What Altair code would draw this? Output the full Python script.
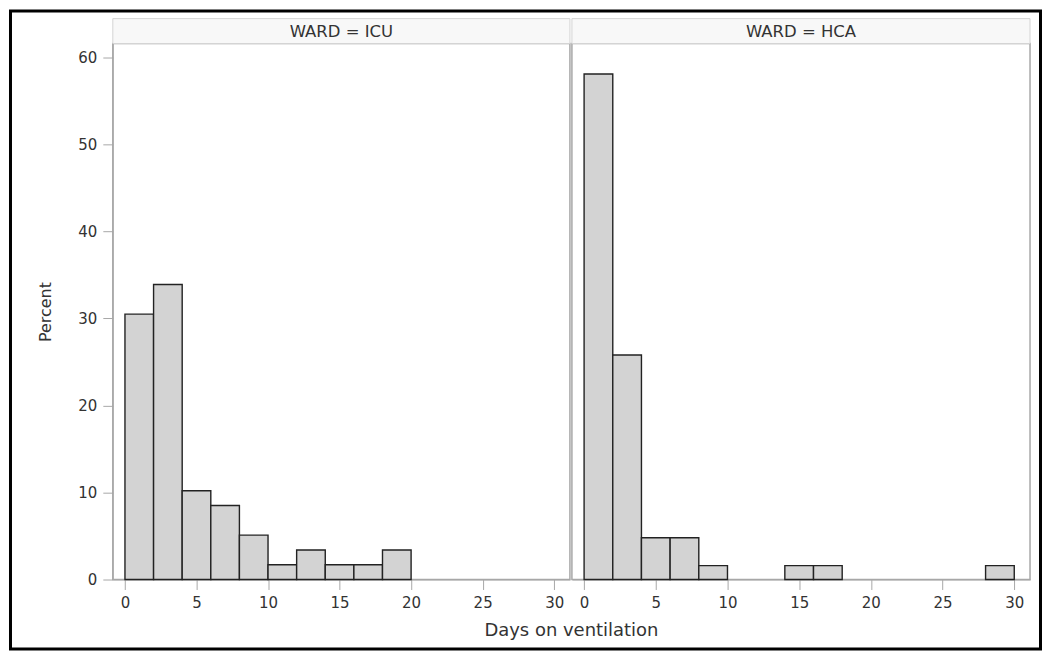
import altair as alt
import pandas as pd

# ---- data ----
wards = ["ICU", "HCA"]
bin_starts = [0, 2, 4, 6, 8, 10, 12, 14, 16, 18, 20, 22, 24, 26, 28]
bin_width = 2
icu_pct = [30.5, 33.9, 10.2, 8.5, 5.1, 1.7, 3.4, 1.7, 1.7, 3.4, 0, 0, 0, 0, 0]
hca_pct = [58.1, 25.8, 4.8, 4.8, 1.6, 0, 0, 1.6, 1.6, 0, 0, 0, 0, 0, 1.6]
x_ticks = [0, 5, 10, 15, 20, 25, 30]
y_ticks = [0, 10, 20, 30, 40, 50, 60]
x_title = "Days on ventilation"
y_title = "Percent"

FONT = "DejaVu Sans"
TXT = "#333333"
GRAY = "#a8a8a8"
W1, W2, H = 458, 459, 537
XDOM = [-0.85, 31.1]
YDOM = [0, 61.6]


def panel(ward, pct, width, first):
    df = pd.DataFrame({
        "start": bin_starts,
        "end": [b + bin_width for b in bin_starts],
        "pct": pct,
    })
    df = df[df["pct"] > 0]

    if first:
        xaxis = alt.Axis(values=x_ticks, title=x_title, titleX=width + 1,
                         titlePadding=11, titleFontSize=18)
        yaxis = alt.Axis(values=y_ticks, title=y_title, titlePadding=24,
                         titleFontSize=16)
    else:
        xaxis = alt.Axis(values=x_ticks, title=None)
        yaxis = None

    bars = alt.Chart(df).mark_rect(
        fill="#d3d3d3", stroke="#222222", strokeWidth=1.4
    ).encode(
        x=alt.X("start:Q", scale=alt.Scale(domain=XDOM, nice=False, zero=False),
                axis=xaxis),
        x2="end:Q",
        y=alt.Y("pct:Q", scale=alt.Scale(domain=YDOM, nice=False),
                axis=yaxis),
        y2=alt.datum(0),
    )

    one = alt.Data(values=[{"w": ward}])
    head = alt.Chart(one).mark_rect(
        fill="#f8f8f8", stroke="#d4d4d4", strokeWidth=1
    ).encode(
        x=alt.value(0), x2=alt.value(width),
        y=alt.value(-25), y2=alt.value(0),
    )
    head_txt = alt.Chart(one).mark_text(
        font=FONT, fontSize=16.5, color=TXT, align="center", baseline="middle"
    ).encode(
        x=alt.value(width / 2), y=alt.value(-12),
        text=alt.value(f"WARD = {ward}"),
    )
    layers = [head, bars, head_txt]
    if first:
        frame = alt.Chart(one).mark_rect(
            fillOpacity=0, stroke="#000000", strokeWidth=3
        ).encode(
            x=alt.value(-102.5), x2=alt.value(929.5),
            y=alt.value(-32.5), y2=alt.value(606.5),
        )
        layers.append(frame)
    return alt.layer(*layers).properties(width=width, height=H)


chart = alt.hconcat(
    panel(wards[0], icu_pct, W1, True),
    panel(wards[1], hca_pct, W2, False),
    spacing=2,
    bounds="flush",
).properties(
    padding=0, background="white"
).configure_view(
    stroke=GRAY, strokeWidth=1.5
).configure_axis(
    grid=False,
    labelFont=FONT, labelFontSize=15, labelColor=TXT,
    titleFont=FONT, titleColor=TXT, titleFontWeight="normal",
    domainColor=GRAY, tickColor=GRAY, tickSize=10,
    labelPadding=6,
)

chart.save("out.html", embed_options={"renderer": "svg", "actions": False})
